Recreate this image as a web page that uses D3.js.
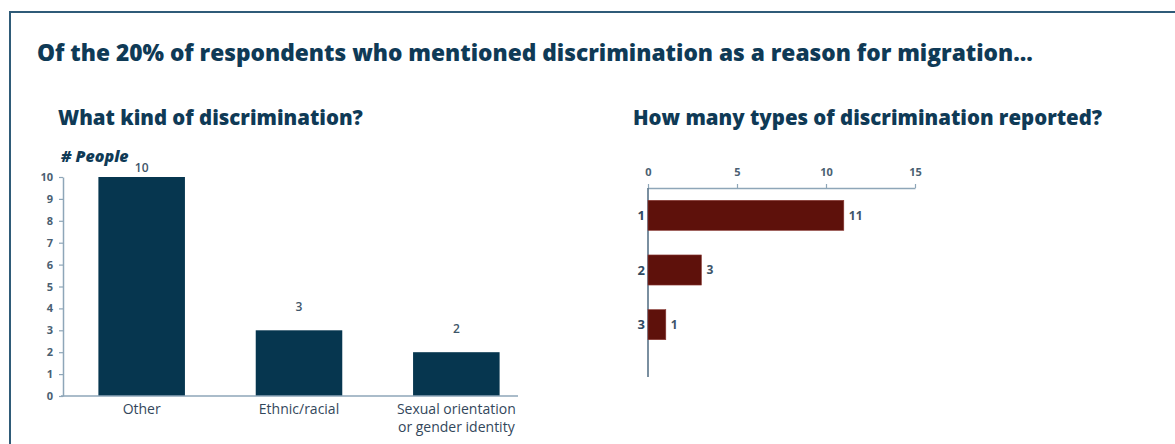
<!DOCTYPE html>
<html>
<head>
<meta charset="utf-8">
<script src="https://cdn.jsdelivr.net/npm/d3@7"></script>
<style>
  html, body { margin: 0; padding: 0; background: #fff; }
  svg { display: block; font-family: "Open Sans", "Noto Sans", sans-serif; }
</style>
</head>
<body>
<svg id="chart" width="1175" height="444"></svg>
<script>
// Discrimination kinds (left panel)
const kindCategories = ["Other", "Ethnic/racial", "Sexual orientation\nor gender identity"];
const kindValues = [10, 3, 2];
const kindTicks = [0, 1, 2, 3, 4, 5, 6, 7, 8, 9, 10];

// Number of discrimination types reported (right panel)
const countCategories = ["1", "2", "3"];
const countValues = [11, 3, 1];
const countTicks = [0, 5, 10, 15];

const navy = "#06364f";
const maroon = "#5e110b";
const titleColor = "#0f3a56";
const axisColor = "#8ea6b8";
const tickText = "#4a6072";

const svg = d3.select("#chart");

// Frame: top and left rules
svg.append("line").attr("x1", 9).attr("x2", 1175).attr("y1", 12).attr("y2", 12)
  .attr("stroke", "#2f5b78").attr("stroke-width", 2);
svg.append("line").attr("x1", 10).attr("x2", 10).attr("y1", 11).attr("y2", 444)
  .attr("stroke", "#2f5b78").attr("stroke-width", 2);

// Headline and panel titles
svg.append("text").attr("x", 37).attr("y", 61)
  .attr("fill", titleColor).attr("font-weight", 800).attr("font-size", 22.7)
  .text("Of the 20% of respondents who mentioned discrimination as a reason for migration...");
svg.append("text").attr("x", 58).attr("y", 125)
  .attr("fill", titleColor).attr("font-weight", 800).attr("font-size", 20.4)
  .text("What kind of discrimination?");
svg.append("text").attr("x", 633).attr("y", 125)
  .attr("fill", titleColor).attr("font-weight", 800).attr("font-size", 20.4)
  .text("How many types of discrimination reported?");

// ---- Left panel: vertical bars ----
const yL = d3.scaleLinear().domain([0, 10]).range([396, 177]);
const xL = d3.scaleBand().domain(kindCategories).range([63, 535])
  .paddingInner(0.45).paddingOuter(0.225);

const gYL = svg.append("g").attr("transform", "translate(63,0)")
  .call(d3.axisLeft(yL).tickValues(kindTicks).tickSize(4).tickSizeOuter(0).tickPadding(6));
gYL.select(".domain").attr("stroke", axisColor).attr("stroke-width", 1.5);
gYL.selectAll(".tick line").attr("stroke", axisColor).attr("stroke-width", 1.2);
gYL.selectAll(".tick text").attr("fill", tickText).attr("font-size", 11).attr("font-weight", 700)
  .attr("font-family", "Open Sans, sans-serif");

svg.append("text").attr("x", 61).attr("y", 162)
  .attr("fill", titleColor).attr("font-weight", 800).attr("font-style", "italic").attr("font-size", 16)
  .text("# People");

svg.selectAll("rect.kind").data(kindValues).join("rect").attr("class", "kind")
  .attr("x", (d, i) => xL(kindCategories[i]))
  .attr("width", xL.bandwidth())
  .attr("y", d => yL(d))
  .attr("height", d => yL(0) - yL(d))
  .attr("fill", navy);

// baseline
svg.append("line").attr("x1", 61).attr("x2", 518).attr("y1", yL(0)).attr("y2", yL(0))
  .attr("stroke", axisColor).attr("stroke-width", 1.5);

svg.selectAll("text.kindVal").data(kindValues).join("text").attr("class", "kindVal")
  .attr("x", (d, i) => xL(kindCategories[i]) + xL.bandwidth() / 2)
  .attr("y", d => Math.max(yL(d) - 19, 172))
  .attr("text-anchor", "middle").attr("fill", "#3e5569").attr("font-size", 12).attr("font-weight", 600)
  .text(d => d);

svg.selectAll("text.kindCat").data(kindCategories).join("text").attr("class", "kindCat")
  .attr("x", d => xL(d) + xL.bandwidth() / 2)
  .attr("y", 414)
  .attr("text-anchor", "middle").attr("fill", "#33475b").attr("font-size", 14)
  .each(function (d) {
    const t = d3.select(this);
    d.split("\n").forEach((line, j) => {
      t.append("tspan").attr("x", xL(d) + xL.bandwidth() / 2).attr("dy", j === 0 ? 0 : 18).text(line);
    });
  });

// ---- Right panel: horizontal bars ----
const xR = d3.scaleLinear().domain([0, 15]).range([648, 915]);
const yR = d3.scaleBand().domain(countCategories).range([188, 352])
  .paddingInner(0.45).paddingOuter(0.225);

const gXR = svg.append("g").attr("transform", "translate(0,188)")
  .call(d3.axisTop(xR).tickValues(countTicks).tickSize(-4).tickSizeOuter(0).tickPadding(14));
gXR.select(".domain").attr("stroke", axisColor).attr("stroke-width", 1.5);
gXR.selectAll(".tick line").attr("stroke", axisColor).attr("stroke-width", 1.2).attr("y2", -4);
gXR.selectAll(".tick text").attr("fill", tickText).attr("font-size", 11).attr("font-weight", 700)
  .attr("font-family", "Open Sans, sans-serif").attr("y", -12);

svg.append("line").attr("x1", xR(0)).attr("x2", xR(0)).attr("y1", 188).attr("y2", 377)
  .attr("stroke", "#4e6a80").attr("stroke-width", 1.5);

svg.selectAll("rect.count").data(countValues).join("rect").attr("class", "count")
  .attr("x", xR(0))
  .attr("y", (d, i) => yR(countCategories[i]))
  .attr("width", d => xR(d) - xR(0))
  .attr("height", yR.bandwidth())
  .attr("fill", maroon)
  .attr("stroke", "#8a3a35").attr("stroke-width", 0.6);

svg.selectAll("text.countCat").data(countCategories).join("text").attr("class", "countCat")
  .attr("x", xR(0) - 3)
  .attr("y", d => yR(d) + yR.bandwidth() / 2)
  .attr("dy", "0.35em")
  .attr("text-anchor", "end").attr("fill", "#2e4a62").attr("font-size", 13).attr("font-weight", 700)
  .text(d => d);

svg.selectAll("text.countVal").data(countValues).join("text").attr("class", "countVal")
  .attr("x", d => xR(d) + 5)
  .attr("y", (d, i) => yR(countCategories[i]) + yR.bandwidth() / 2)
  .attr("dy", "0.35em")
  .attr("fill", "#3e5569").attr("font-size", 12).attr("font-weight", 700)
  .text(d => d);
</script>
</body>
</html>
